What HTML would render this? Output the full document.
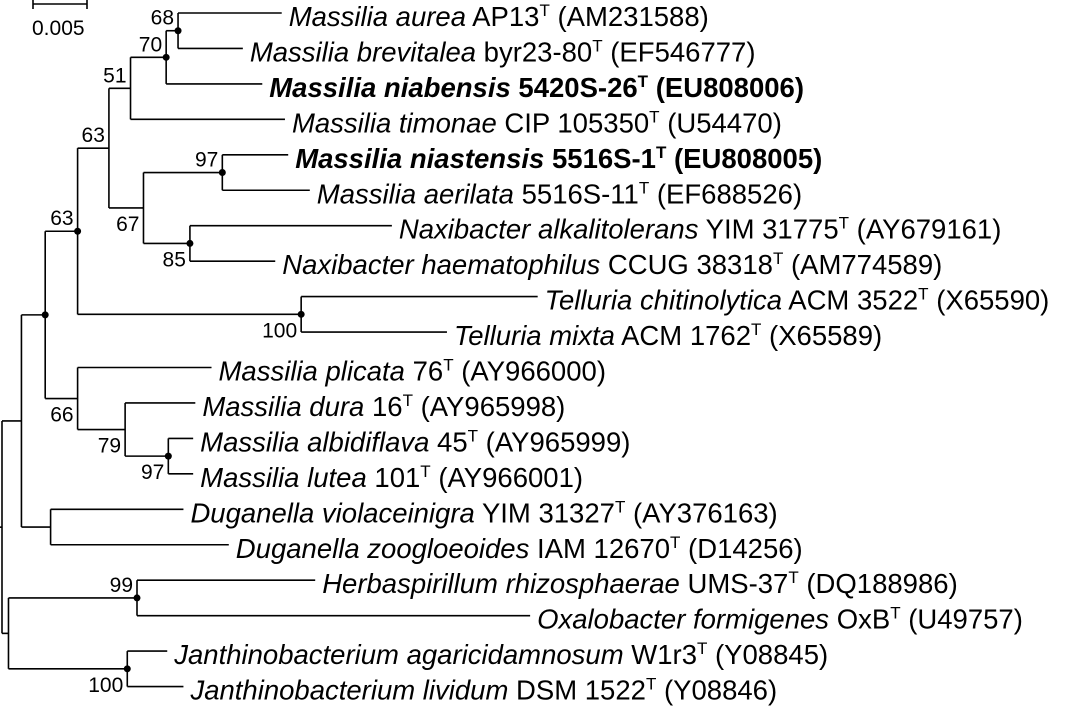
<!DOCTYPE html>
<html><head><meta charset="utf-8"><style>
html,body{margin:0;padding:0;background:#fff;}
svg{display:block;font-family:"Liberation Sans",sans-serif;}
</style></head><body>
<svg id="tree" width="1065" height="706" viewBox="0 0 1065 706" xmlns="http://www.w3.org/2000/svg">
<g>
<line x1="33" y1="4" x2="87" y2="4" stroke="#000" stroke-width="1.6"/>
<line x1="33" y1="-2" x2="33" y2="9" stroke="#000" stroke-width="1.6"/>
<line x1="87" y1="-2" x2="87" y2="9" stroke="#000" stroke-width="1.6"/>
<text x="32" y="35" font-size="21">0.005</text>
</g>
<g id="branches"></g>
<g id="labels"></g>
</svg>
<script>
// leaf data: [italic name, strain, accession, bold, branch-end depth (units of 0.001 subst/site)]
const leafNames = ["Massilia aurea","Massilia brevitalea","Massilia niabensis","Massilia timonae","Massilia niastensis","Massilia aerilata","Naxibacter alkalitolerans","Naxibacter haematophilus","Telluria chitinolytica","Telluria mixta","Massilia plicata","Massilia dura","Massilia albidiflava","Massilia lutea","Duganella violaceinigra","Duganella zoogloeoides","Herbaspirillum rhizosphaerae","Oxalobacter formigenes","Janthinobacterium agaricidamnosum","Janthinobacterium lividum"];
const leafStrains = ["AP13","byr23-80","5420S-26","CIP 105350","5516S-1","5516S-11","YIM 31775","CCUG 38318","ACM 3522","ACM 1762","76","16","45","101","YIM 31327","IAM 12670","UMS-37","OxB","W1r3","DSM 1522"];
const leafAcc = ["AM231588","EF546777","EU808006","U54470","EU808005","EF688526","AY679161","AM774589","X65590","X65589","AY966000","AY965998","AY965999","AY966001","AY376163","D14256","DQ188986","U49757","Y08845","Y08846"];
const leafBold = [0,0,1,0,1,0,0,0,0,0,0,0,0,0,0,0,0,0,0,0];
const leafDepth = [25.9,22.3,24.1,26.2,26.5,28.5,36.1,25.3,49.6,41.2,19.4,17.9,17.7,17.7,16.8,21.0,29.0,48.9,15.3,16.8];
// internal nodes: depth, children ("L#" leaf or "N#" node), support, label side, dot
const nodeDepth = [16.3,15.2,11.9,20.4,17.4,13.1,9.9,27.7,7.0,15.4,11.4,7.0,4.0,4.5,1.8,12.5,11.6,0.6,0.0];
const nodeKids = [["L0","L1"],["N0","L2"],["N1","L3"],["L4","L5"],["L6","L7"],["N3","N4"],["N2","N5"],["L8","L9"],["N6","N7"],["L12","L13"],["L11","N9"],["L10","N10"],["N8","N11"],["L14","L15"],["N12","N13"],["L16","L17"],["L18","L19"],["N15","N16"],["N14","N17"]];
const nodeSupport = ["68","70","51","97","85","67","63","100","63","97","79","66","","","","99","100","",""];
const nodeSide = ["a","a","a","a","b","b","a","b","a","b","b","b","","","","a","b","",""];
const nodeDot = [1,1,0,1,1,0,0,1,1,1,0,0,1,0,0,1,1,0,0];

const X = d => 2 + d * 10.8;
const rowY = i => 13 + i * 35.45;
const NS = "http://www.w3.org/2000/svg";
const br = document.getElementById("branches");
const lb = document.getElementById("labels");
function mk(tag, attrs, parent){const e=document.createElementNS(NS,tag);for(const k in attrs)e.setAttribute(k,attrs[k]);parent.appendChild(e);return e;}
const nodeY = [];
function pos(ref){
  const i = +ref.slice(1);
  if(ref[0]==="L") return {x:X(leafDepth[i]), y:rowY(i)};
  return {x:X(nodeDepth[i]), y:nodeY[i]};
}
for(let i=0;i<nodeDepth.length;i++){
  const ps = nodeKids[i].map(pos);
  nodeY[i] = (ps[0].y + ps[1].y)/2;
  const nx = X(nodeDepth[i]);
  const v = mk("line",{x1:nx,y1:ps[0].y,x2:nx,y2:ps[1].y,stroke:"#000","stroke-width":1.6},br);
  
  
  ps.forEach(p=>{
    const h = mk("line",{x1:nx,y1:p.y,x2:p.x,y2:p.y,stroke:"#000","stroke-width":1.6},br);
    
    
  });
  if(nodeDot[i]){
    const c = mk("circle",{cx:nx,cy:nodeY[i],r:3.5,fill:"#000"},br);
    
    
  }
  if(nodeSupport[i]){
    const t = mk("text",{x:nx-4,y:nodeY[i]+(nodeSide[i]==="a"?-6:23),"font-size":21,"text-anchor":"end"},lb);
    t.textContent = nodeSupport[i];
    
    
  }
}
// root stub
const stub = mk("line",{x1:0,y1:nodeY[18],x2:2,y2:nodeY[18],stroke:"#000","stroke-width":1.6},br);


for(let i=0;i<leafNames.length;i++){
  const t = mk("text",{x:X(leafDepth[i])+7,y:rowY(i)+13,"font-size":27.5,"font-weight":leafBold[i]?"bold":"normal"},lb);
  
  
  const a = mk("tspan",{"font-style":"italic"},t); a.textContent = leafNames[i];
  const b = mk("tspan",{},t); b.textContent = " " + leafStrains[i];
  const s = mk("tspan",{"font-size":17,dy:-10},t); s.textContent = "T";
  const c = mk("tspan",{dy:10},t); c.textContent = " (" + leafAcc[i] + ")";
}
</script>
</body></html>
